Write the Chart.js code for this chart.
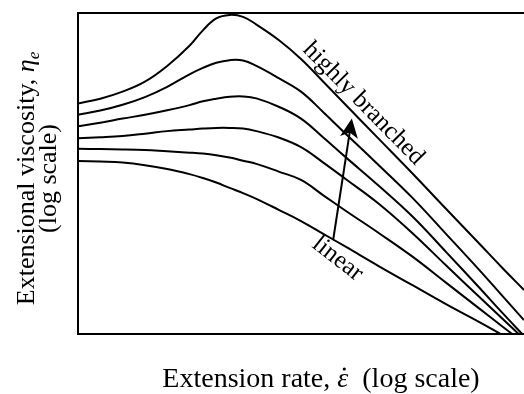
<!DOCTYPE html>
<html>
<head>
<meta charset="utf-8">
<script src="https://cdn.jsdelivr.net/npm/chart.js@4/dist/chart.umd.min.js"></script>
<style>
  html, body { margin: 0; padding: 0; background: #fff; }
  #wrap { width: 524px; height: 394px; }
</style>
</head>
<body>
<div id="wrap"><canvas id="chart" width="524" height="394"></canvas></div>
<script>
// Extension rate (log scale, arbitrary units 0..100)
const rates = [0, 5, 10, 15, 20, 25, 28, 31, 34, 37, 40, 45, 50, 55, 60, 67.5, 75, 82.5, 90, 95, 100];

// Extensional viscosity (log scale, arbitrary units 0..100), from linear to highly branched
const etaLinear   = [53.9, 53.7, 53.4, 52.6, 51.4, 49.8, 48.6, 47.2, 45.5, 43.9, 42.1, 38.7, 35.2, 31.2, 27.2, 21.1, 15.2, 9.3, 3.7, -0.2, -4.0];
const etaBranch1  = [57.7, 57.6, 57.5, 57.3, 56.9, 56.5, 56.2, 55.7, 55.0, 54.0, 53.0, 50.6, 48.0, 43.2, 38.4, 31.4, 24.1, 16.0, 7.9, 2.5, -2.8];
const etaBranch2  = [61.0, 61.3, 61.7, 62.4, 63.2, 63.7, 64.0, 64.2, 64.2, 64.0, 63.2, 61.2, 58.2, 53.4, 48.3, 40.5, 31.4, 21.4, 11.5, 5.0, -1.6];
const etaBranch3  = [64.7, 65.8, 67.1, 68.3, 69.7, 71.3, 72.5, 73.3, 73.9, 74.0, 73.4, 70.8, 67.1, 61.2, 55.1, 46.1, 36.6, 25.6, 14.4, 6.8, -0.6];
const etaBranch4  = [68.3, 69.6, 71.4, 73.8, 77.0, 80.9, 82.9, 84.5, 85.3, 85.2, 83.5, 79.7, 75.5, 69.1, 62.4, 52.5, 42.4, 31.2, 19.9, 12.1, 4.3];
const etaHighly   = [71.8, 73.3, 75.5, 78.6, 83.5, 89.8, 94.6, 98.3, 99.4, 98.8, 96.4, 91.6, 85.7, 78.6, 71.4, 60.7, 50.0, 39.0, 28.1, 20.8, 13.7];

const curves = [etaLinear, etaBranch1, etaBranch2, etaBranch3, etaBranch4, etaHighly];

const SERIF = '"Liberation Serif", "Times New Roman", serif';

// draw titles, labels and the arrow on top of the chart
const annotations = {
    id: 'annotations',
    afterDraw(chart) {
        const { ctx, chartArea } = chart;
        const xs = chart.scales.x, ys = chart.scales.y;
        ctx.save();
        ctx.fillStyle = '#000';
        ctx.strokeStyle = '#000';

        // x axis title, epsilon gets a dot drawn above it
        const xParts = [
            { t: 'Extension rate, ', f: '28px ' + SERIF },
            { t: '\u03B5', f: 'italic 28px ' + SERIF, dot: true },
            { t: '  (log scale)', f: '28px ' + SERIF }
        ];
        let total = 0;
        xParts.forEach(p => { ctx.font = p.f; p.w = ctx.measureText(p.t).width; total += p.w; });
        let px = (chartArea.left + chartArea.right) / 2 + 20 - total / 2;
        const by = chartArea.bottom + 53;
        ctx.textBaseline = 'alphabetic';
        ctx.textAlign = 'left';
        xParts.forEach(p => {
            ctx.font = p.f;
            ctx.fillText(p.t, px, by);
            if (p.dot) {
                ctx.beginPath();
                ctx.arc(px + p.w / 2 + 1.5, by - 18, 1.6, 0, Math.PI * 2);
                ctx.fill();
            }
            px += p.w;
        });

        // y axis title (rotated)
        ctx.save();
        ctx.translate(0, (chartArea.top + chartArea.bottom) / 2 + 5);
        ctx.rotate(-Math.PI / 2);
        const yParts = [
            { t: 'Extensional viscosity, ', f: '26px ' + SERIF, dy: 0 },
            { t: '\u03B7', f: 'italic 26px ' + SERIF, dy: 0 },
            { t: 'e', f: 'italic 17px ' + SERIF, dy: 5 }
        ];
        total = 0;
        yParts.forEach(p => { ctx.font = p.f; p.w = ctx.measureText(p.t).width; total += p.w; });
        px = -total / 2;
        yParts.forEach(p => { ctx.font = p.f; ctx.fillText(p.t, px, 34 + p.dy); px += p.w; });
        ctx.font = '26px ' + SERIF;
        ctx.textAlign = 'center';
        ctx.fillText('(log scale)', 0, 56);
        ctx.restore();

        // curve labels
        ctx.font = '25px ' + SERIF;
        ctx.textAlign = 'center';
        ctx.textBaseline = 'middle';
        ctx.save();
        ctx.translate(xs.getPixelForValue(64.0), ys.getPixelForValue(71.8));
        ctx.rotate(45.5 * Math.PI / 180);
        ctx.fillText('highly branched', 0, 0);
        ctx.restore();

        ctx.save();
        ctx.translate(xs.getPixelForValue(58.2), ys.getPixelForValue(23.4));
        ctx.rotate(38 * Math.PI / 180);
        ctx.fillText('linear', 0, 0);
        ctx.restore();

        // arrow from linear towards highly branched
        const x0 = xs.getPixelForValue(57.2), y0 = ys.getPixelForValue(29.2);
        const x1 = xs.getPixelForValue(61.4), y1 = ys.getPixelForValue(67.1);
        const ang = Math.atan2(y1 - y0, x1 - x0);
        const len = 19, half = 9;
        ctx.lineWidth = 2;
        ctx.beginPath();
        ctx.moveTo(x0, y0);
        ctx.lineTo(x1 - Math.cos(ang) * 12, y1 - Math.sin(ang) * 12);
        ctx.stroke();
        ctx.translate(x1, y1);
        ctx.rotate(ang);
        ctx.beginPath();
        ctx.moveTo(0, 0);
        ctx.lineTo(-len, -half);
        ctx.lineTo(-len + 5, 0);
        ctx.lineTo(-len, half);
        ctx.closePath();
        ctx.fill();
        ctx.restore();
    }
};

const datasets = curves.map(vals => ({
    data: rates.map((r, i) => ({ x: r, y: vals[i] })),
    borderColor: '#000',
    borderWidth: 2,
    pointRadius: 0,
    fill: false,
    tension: 0.4
}));

const frame = { display: true, color: '#000', width: 2 };

new Chart(document.getElementById('chart'), {
    type: 'line',
    data: { datasets: datasets },
    options: {
        responsive: false,
        animation: false,
        layout: { padding: { left: 70, top: 5, right: 0, bottom: 52 } },
        plugins: { legend: { display: false }, tooltip: { enabled: false } },
        scales: {
            x: {
                type: 'linear', min: 0, max: 100,
                ticks: { display: false },
                grid: { display: false },
                border: frame
            },
            xTop: {
                type: 'linear', position: 'top', axis: 'x', min: 0, max: 100,
                ticks: { display: false },
                grid: { display: false },
                border: frame
            },
            y: {
                type: 'linear', min: 0, max: 100,
                ticks: { display: false },
                grid: { display: false },
                border: frame
            }
        }
    },
    plugins: [annotations]
});
</script>
</body>
</html>
